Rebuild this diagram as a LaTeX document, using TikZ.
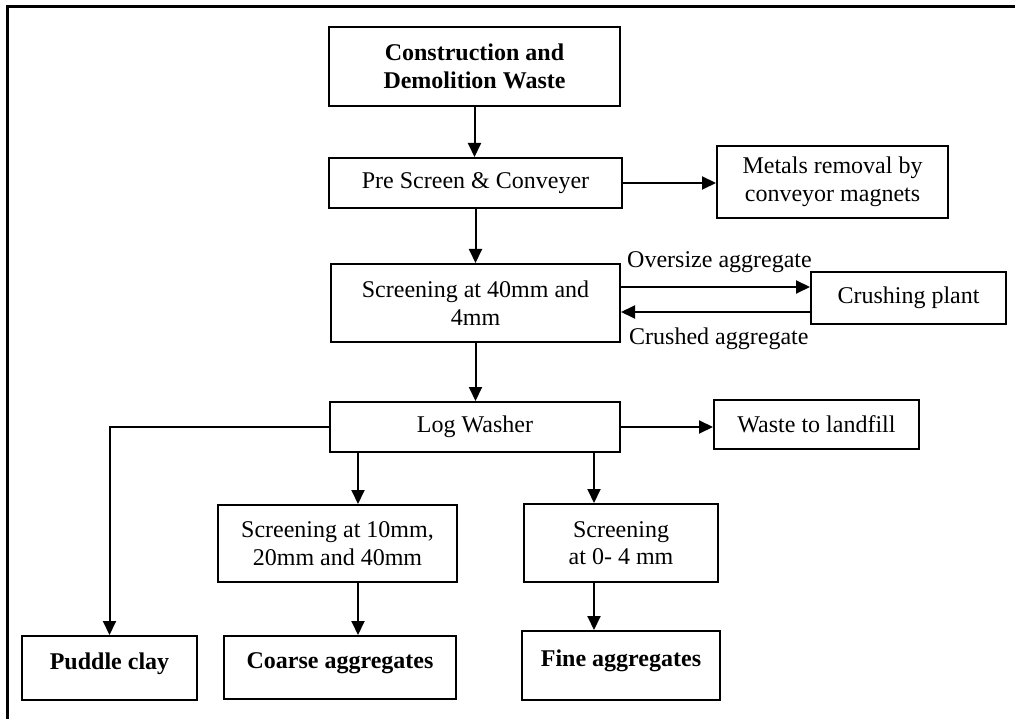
\documentclass[tikz,border=0pt]{standalone}
\usepackage{fontspec}
\setmainfont{Liberation Serif}
\usetikzlibrary{arrows.meta}

\tikzset{
  box/.style={draw=black, line width=2pt, rectangle, inner sep=0pt,
    align=center, font=\fontsize{24}{27.5}\selectfont},
  titlebox/.style={box, font=\fontsize{24}{27.5}\selectfont\bfseries},
  boldbox/.style={box, font=\fontsize{24}{27.5}\selectfont\bfseries,
    text height=20pt, text depth=18pt},
  flow/.style={line width=2pt, -{Triangle[length=14pt,width=13pt]}},
  lbl/.style={inner sep=0pt, font=\fontsize{24}{27.5}\selectfont},
  frame/.style={line width=3pt}
}

\begin{document}
\begin{tikzpicture}[x=1pt, y=-1pt]
  \useasboundingbox (0,0) rectangle (1015,719);

  % outer frame
  \draw[frame] (7,719) -- (7,7) -- (1015,7);

  % process boxes
  \node[titlebox, minimum width=291pt, minimum height=79pt] (cdw) at (474.5,66.5)
    {Construction and\\Demolition Waste};
  \node[box, minimum width=293pt, minimum height=50pt] (pre) at (475.5,183)
    {Pre Screen \& Conveyer};
  \node[box, minimum width=231pt, minimum height=72pt] (metal) at (832.5,182)
    {Metals removal by\\conveyor magnets};
  \node[box, minimum width=289pt, minimum height=78pt] (scr40) at (475.5,303)
    {Screening at 40mm and\\4mm};
  \node[box, minimum width=195pt, minimum height=52pt] (crush) at (908.5,298)
    {Crushing plant};
  \node[box, minimum width=290pt, minimum height=50pt] (log) at (475,427)
    {Log Washer};
  \node[box, minimum width=205pt, minimum height=49pt] (land) at (816.5,424.5)
    {Waste to landfill};
  \node[box, minimum width=239pt, minimum height=77pt] (scr10) at (337.5,543.5)
    {Screening at 10mm,\\20mm and 40mm};
  \node[box, minimum width=194pt, minimum height=78pt] (scr04) at (621,543)
    {Screening\\at 0- 4 mm};
  \node[boldbox, minimum width=175pt, minimum height=64pt] (puddle) at (109.5,668)
    {Puddle clay};
  \node[boldbox, minimum width=232pt, minimum height=63pt] (coarse) at (340,667.5)
    {Coarse aggregates};
  \node[boldbox, minimum width=198pt, minimum height=69pt] (fine) at (621,665.5)
    {Fine aggregates};

  % main line
  \draw[flow] (cdw.south) -- (cdw.south |- pre.north);
  \draw[flow] (pre.east) -- (pre.east -| metal.west);
  \draw[flow] (pre.south) -- (pre.south |- scr40.north);
  \draw[flow] (scr40.south) -- (scr40.south |- log.north);

  % loop through the crushing plant
  \coordinate (ov) at ([yshift=16pt]scr40.east);
  \coordinate (cr) at ([yshift=-9pt]scr40.east);
  \draw[flow] (ov) -- (ov -| crush.west);
  \draw[flow] (cr -| crush.west) -- (cr);
  \node[lbl, anchor=west] (ovl) at ([xshift=6pt,yshift=25pt]ov) {Oversize aggregate};
  \node[lbl, anchor=west] (crl) at ([xshift=8pt,yshift=-27pt]cr) {Crushed aggregate};

  % outputs of the log washer
  \draw[flow] (log.east) -- (log.east -| land.west);
  \draw[flow] (log.west) -| (puddle.north);
  \coordinate (c10) at ([xshift=20.5pt]scr10.north);
  \coordinate (c04) at ([xshift=-27pt]scr04.north);
  \draw[flow] (log.south -| c10) -- (c10);
  \draw[flow] (log.south -| c04) -- (c04);
  \draw[flow] (scr10.south -| c10) -- (coarse.north -| c10);
  \draw[flow] (scr04.south -| c04) -- (fine.north -| c04);
\end{tikzpicture}
\end{document}
